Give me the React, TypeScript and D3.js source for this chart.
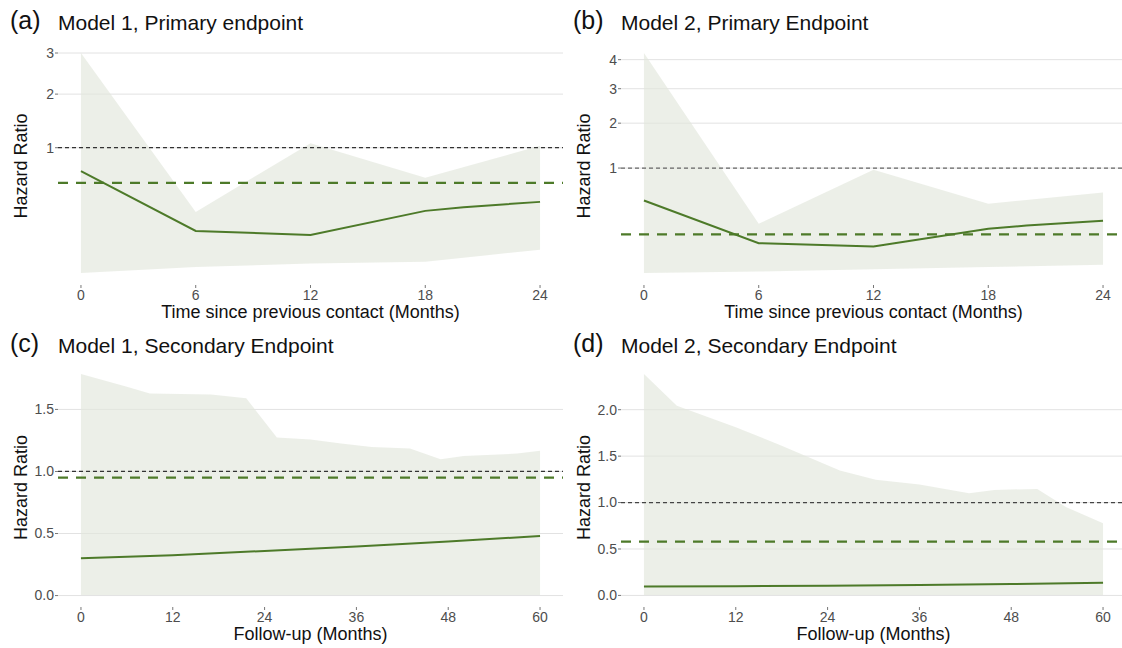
import React from "react"
import * as d3 from "d3"

// panel (a) Model 1, primary endpoint
const monthsA = [0, 6, 12, 18, 24]
const lowerA = [0.001, 0.006, 0.011, 0.014, 0.045]
const upperA = [3.0, 0.254, 1.07, 0.589, 1.03]
const lineMonthsA = [0, 6, 12, 18, 20, 24]
const hrA = [0.67, 0.127, 0.106, 0.262, 0.292, 0.338]
const meanA = 0.53

// panel (b) Model 2, primary endpoint
const monthsB = [0, 6, 12, 18, 24]
const lowerB = [0.001, 0.002, 0.0045, 0.0074, 0.0115]
const upperB = [4.25, 0.236, 0.969, 0.449, 0.6]
const lineMonthsB = [0, 6, 12, 18, 20, 24]
const hrB = [0.491, 0.094, 0.076, 0.193, 0.221, 0.263]
const meanB = 0.15

// panel (c) Model 1, secondary endpoint
const monthsC = [0, 6, 9, 17, 21.6, 25.6, 30, 34, 38, 43, 47, 50, 57, 60]
const lowerC = [0.005, 0.005, 0.005, 0.005, 0.005, 0.005, 0.005, 0.005, 0.005, 0.005, 0.005, 0.005, 0.005, 0.005]
const upperC = [1.785, 1.683, 1.629, 1.621, 1.589, 1.274, 1.258, 1.225, 1.198, 1.185, 1.099, 1.125, 1.144, 1.166]
const lineMonthsC = [0, 12, 24, 36, 48, 60]
const hrC = [0.3, 0.325, 0.36, 0.395, 0.435, 0.48]
const meanC = 0.95

// panel (d) Model 2, secondary endpoint
const monthsD = [0, 4.3, 12, 18, 25.6, 30.3, 36, 42.5, 45.8, 51.4, 55.2, 60]
const lowerD = [0.005, 0.005, 0.005, 0.005, 0.005, 0.005, 0.005, 0.005, 0.005, 0.005, 0.005, 0.005]
const upperD = [2.384, 2.043, 1.81, 1.613, 1.344, 1.247, 1.194, 1.1, 1.136, 1.147, 0.95, 0.778]
const lineMonthsD = [0, 12, 24, 36, 48, 60]
const hrD = [0.095, 0.1, 0.105, 0.112, 0.122, 0.136]
const meanD = 0.58

const ticksPrimaryX = [0, 6, 12, 18, 24]
const ticksSecondaryX = [0, 12, 24, 36, 48, 60]
const ticksA = [1, 2, 3]
const ticksB = [1, 2, 3, 4]
const ticksC = [0, 0.5, 1, 1.5]
const ticksD = [0, 0.5, 1, 1.5, 2]

const FONT = "Liberation Sans, Arial, Helvetica, sans-serif"
const GREEN = "#4d7a29"

const Panel = ({ ox, top, bottom, titleY, tag, title, months, lower, upper, lineMonths, hr, mean,
  xTicks, yTicks, sqrt, xLabel, refColor }) => {
  const left = ox + 58
  const right = ox + 563
  const xMax = d3.max(months)
  const x = d3.scaleLinear().domain([-0.05 * xMax, xMax * 1.05]).range([left, right])

  // ggplot style: expand 5% in transformed space (sqrt for the primary endpoint)
  const tf = sqrt ? Math.sqrt : (v) => v
  const hi = tf(d3.max(upper))
  const lo = tf(d3.min(lower))
  const pad = 0.05 * (hi - lo)
  const yl = d3.scaleLinear().domain([lo - pad, hi + pad]).range([bottom, top])
  const y = (v) => yl(tf(v))

  const area = d3.area<number>()
    .x((d, i) => x(months[i]))
    .y0((d, i) => y(lower[i]))
    .y1((d) => y(d))
  const line = d3.line<number>()
    .x((d, i) => x(lineMonths[i]))
    .y((d) => y(d))

  const fmt = sqrt ? d3.format("d") : d3.format(".1f")

  return (
    <g fontFamily={FONT}>
      <text x={ox + 10} y={titleY} fontSize={25} fill="#111">{tag}</text>
      <text x={ox + 58} y={titleY + 1} fontSize={21} fill="#111">{title}</text>

      {yTicks.map((t) => (
        <g key={t}>
          <line x1={left} x2={right} y1={y(t)} y2={y(t)} stroke="#e2e2e2" strokeWidth={1} />
          <line x1={left - 3} x2={left} y1={y(t)} y2={y(t)} stroke="#777" strokeWidth={1} />
          <text x={left - 4} y={y(t)} dy="0.35em" textAnchor="end" fontSize={14} fill="#4d4d4d">{fmt(t)}</text>
        </g>
      ))}

      <path d={area(upper)} fill="#e2e7dc" fillOpacity={0.65} />

      <line x1={left} x2={right} y1={y(1)} y2={y(1)} stroke={refColor} strokeWidth={1.3} strokeDasharray="4,3" />
      <line x1={left} x2={right} y1={y(mean)} y2={y(mean)} stroke={GREEN} strokeWidth={2.2} strokeDasharray="10,8" />
      <path d={line(hr)} fill="none" stroke={GREEN} strokeWidth={2} />

      {xTicks.map((t) => (
        <g key={t}>
          <line x1={x(t)} x2={x(t)} y1={bottom + 1} y2={bottom + 4} stroke="#777" strokeWidth={1} />
          <text x={x(t)} y={bottom + 16} textAnchor="middle" fontSize={14} fill="#4d4d4d">{t}</text>
        </g>
      ))}

      <text x={(left + right) / 2} y={bottom + 34} textAnchor="middle" fontSize={18} fill="#111">{xLabel}</text>
      <text transform={`translate(${ox + 27},${(top + bottom) / 2 + 3}) rotate(-90)`} textAnchor="middle"
        fontSize={18} fill="#111">Hazard Ratio</text>
    </g>
  )
}

export default function App() {
  return (
    <svg width={1122} height={648} style={{ position: "fixed", left: 0, top: 0, background: "#fff" }}>
      <Panel ox={0} top={42} bottom={284} titleY={29} tag="(a)" title="Model 1, Primary endpoint"
        months={monthsA} lower={lowerA} upper={upperA} lineMonths={lineMonthsA} hr={hrA} mean={meanA}
        xTicks={ticksPrimaryX} yTicks={ticksA} sqrt={true} refColor="#333"
        xLabel="Time since previous contact (Months)" />
      <Panel ox={563} top={42} bottom={284} titleY={29} tag="(b)" title="Model 2, Primary Endpoint"
        months={monthsB} lower={lowerB} upper={upperB} lineMonths={lineMonthsB} hr={hrB} mean={meanB}
        xTicks={ticksPrimaryX} yTicks={ticksB} sqrt={true} refColor="#666"
        xLabel="Time since previous contact (Months)" />
      <Panel ox={0} top={363} bottom={606} titleY={352} tag="(c)" title="Model 1, Secondary Endpoint"
        months={monthsC} lower={lowerC} upper={upperC} lineMonths={lineMonthsC} hr={hrC} mean={meanC}
        xTicks={ticksSecondaryX} yTicks={ticksC} sqrt={false} refColor="#333" xLabel="Follow-up (Months)" />
      <Panel ox={563} top={363} bottom={606} titleY={352} tag="(d)" title="Model 2, Secondary Endpoint"
        months={monthsD} lower={lowerD} upper={upperD} lineMonths={lineMonthsD} hr={hrD} mean={meanD}
        xTicks={ticksSecondaryX} yTicks={ticksD} sqrt={false} refColor="#444" xLabel="Follow-up (Months)" />
    </svg>
  )
}
